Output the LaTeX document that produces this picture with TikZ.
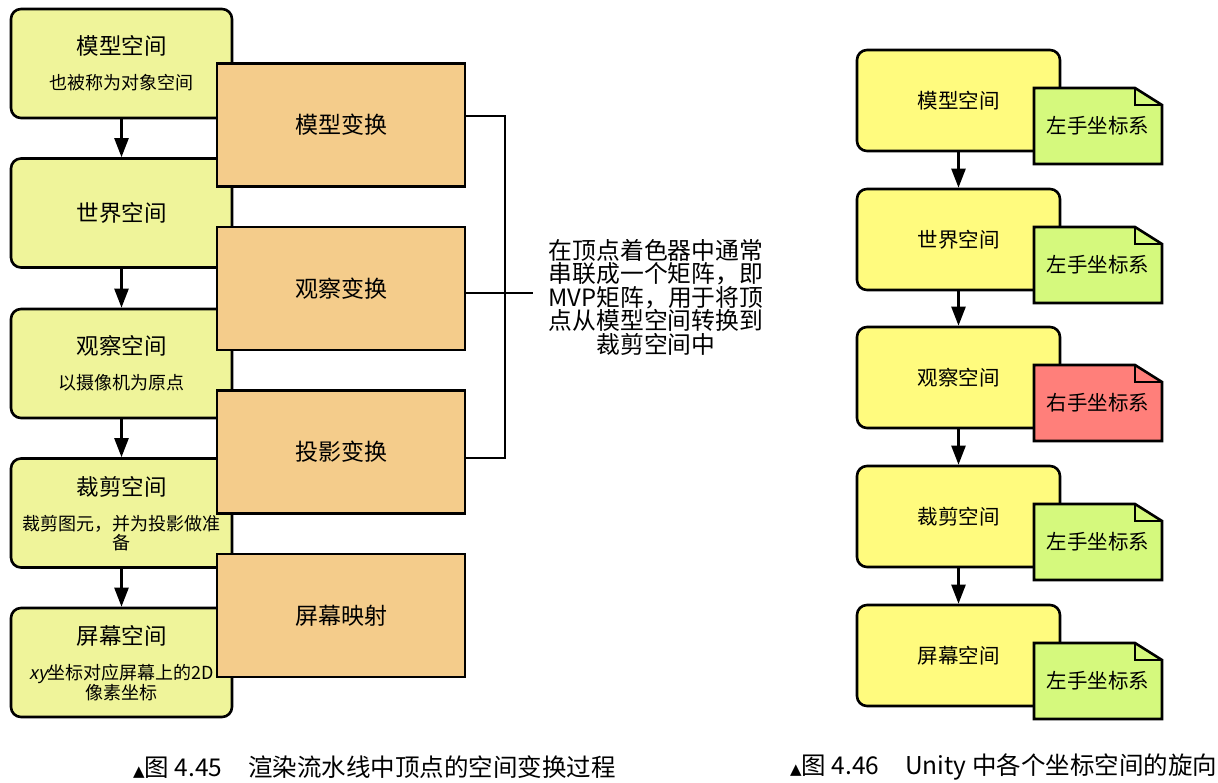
\documentclass[tikz,border=0pt]{standalone}
\usepackage{fontspec}
\setmainfont{Noto Sans CJK SC}
\newfontfamily\slantfont[FakeSlant=0.2]{Noto Sans CJK SC}
\newfontfamily\symfont{DejaVu Sans}
\usetikzlibrary{arrows.meta,calc}

\definecolor{paleyellow}{HTML}{EFF49A}
\definecolor{brightyellow}{HTML}{FFFB7E}
\definecolor{transorange}{HTML}{F4CC8B}
\definecolor{leftgreen}{HTML}{D5F97D}
\definecolor{rightred}{HTML}{FF7F7A}

\tikzset{
  lbox/.style={draw,line width=2.6pt,rounded corners=10pt,fill=paleyellow,
    minimum width=221pt,minimum height=109pt,inner sep=0pt},
  tbox/.style={draw,line width=2.6pt,fill=transorange,
    minimum width=248pt,minimum height=123pt,inner sep=0pt,
    font=\fontsize{23}{23}\selectfont},
  rbox/.style={draw,line width=2.6pt,rounded corners=10pt,fill=brightyellow,
    minimum width=203pt,minimum height=101pt,inner sep=0pt,
    font=\fontsize{20.5}{20.5}\selectfont},
  ltitle/.style={inner sep=0pt,font=\fontsize{22.5}{22.5}\selectfont},
  lsub/.style={inner sep=0pt,align=center,font=\fontsize{18}{18.5}\selectfont},
  notebox/.style={draw,line width=2.6pt,line join=miter},
  notetext/.style={inner sep=0pt,font=\fontsize{20.5}{20.5}\selectfont},
  flow/.style={-{Triangle[width=14pt,length=19pt]},line width=2.4pt},
  bracket/.style={line width=2.2pt},
  mvptext/.style={inner sep=0pt,align=center,font=\fontsize{23.8}{23.5}\selectfont},
  caption/.style={inner sep=0pt,font=\fontsize{24.5}{24.5}\selectfont}
}

% #1 name, #2 centre, #3 fill colour, #4 text
\newcommand{\dognote}[4]{%
  \draw[notebox,fill=#3] ($(#2)+(-64,-38)$) -- ($(#2)+(37,-38)$) -- ($(#2)+(64,-21)$)
    -- ($(#2)+(64,38)$) -- ($(#2)+(-64,38)$) -- cycle;
  \draw[notebox] ($(#2)+(37,-38)$) |- ($(#2)+(64,-21)$);
  \node[notetext] (#1) at (#2) {#4};}

\begin{document}
\begin{tikzpicture}[x=1pt,y=-1pt]
	\useasboundingbox (0,0) rectangle (1218,783);
	% left: the spaces
	\node[lbox] (lmodel) at (121.5,63.5) {};
	\node[lbox] (lworld) at (121.5,213) {};
	\node[lbox] (lview) at (121.5,363.5) {};
	\node[lbox] (lclip) at (121.5,513) {};
	\node[lbox] (lscreen) at (121.5,662.5) {};
	\node[ltitle] (lmodelt) at (121.5,46) {模型空间};
	\node[lsub] (lmodels) at (121.5,83) {也被称为对象空间};
	\node[ltitle] (lworldt) at (lworld) {世界空间};
	\node[ltitle] (lviewt) at (121.5,346) {观察空间};
	\node[lsub] (lviews) at (121.5,383) {以摄像机为原点};
	\node[ltitle] (lclipt) at (121.5,487) {裁剪空间};
	\node[lsub] (lclips) at (121.5,533) {裁剪图元，并为投影做准\\备};
	\node[ltitle] (lscreent) at (121.5,636) {屏幕空间};
	\node[lsub] (lscreens) at (121.5,682.5) {{\slantfont xy}坐标对应屏幕上的2D\\像素坐标};
	\draw[flow] (lmodel) -- (lworld);
	\draw[flow] (lworld) -- (lview);
	\draw[flow] (lview) -- (lclip);
	\draw[flow] (lclip) -- (lscreen);
	% the transforms
	\node[tbox] (tmodel) at (341,125) {模型变换};
	\node[tbox] (tview) at (341,288.5) {观察变换};
	\node[tbox] (tproj) at (341,452) {投影变换};
	\node[tbox] (tscreen) at (341,615.5) {屏幕映射};
	\coordinate (brkb) at (505,458);
	\coordinate (brkm) at (533,293);
	\draw[bracket] ([yshift=9pt]tmodel.east) -| (brkb) -- ([yshift=-6pt]tproj.east);
	\draw[bracket] ([yshift=-4.5pt]tview.east) -- (brkm);
	\node[mvptext] (mvp) at (656,297) {在顶点着色器中通常\\串联成一个矩阵，即\\MVP矩阵，用于将顶\\点从模型空间转换到\\裁剪空间中};
	% right: handedness
	\node[rbox] (rmodel) at (958.5,100.5) {模型空间};
	\node[rbox] (rworld) at (958.5,239.5) {世界空间};
	\node[rbox] (rview) at (958.5,377.5) {观察空间};
	\node[rbox] (rclip) at (958.5,516.5) {裁剪空间};
	\node[rbox] (rscreen) at (958.5,655.5) {屏幕空间};
	\draw[flow] (rmodel) -- (rworld);
	\draw[flow] (rworld) -- (rview);
	\draw[flow] (rview) -- (rclip);
	\draw[flow] (rclip) -- (rscreen);
	\dognote{nmodel}{1098,126}{leftgreen}{左手坐标系}
	\dognote{nworld}{1098,265}{leftgreen}{左手坐标系}
	\dognote{nview}{1098,403}{rightred}{右手坐标系}
	\dognote{nclip}{1098,542}{leftgreen}{左手坐标系}
	\dognote{nscreen}{1098,681}{leftgreen}{左手坐标系}
	% captions
	\node[caption,anchor=west] (capl) at (133,767) {{\symfont\fontsize{15}{15}\selectfont ▲}图 4.45\hspace{26pt}渲染流水线中顶点的空间变换过程};
	\node[caption,anchor=west] (capr) at (790,767) {{\symfont\fontsize{15}{15}\selectfont ▲}图 4.46\hspace{26pt}Unity 中各个坐标空间的旋向};
\end{tikzpicture}
\end{document}
